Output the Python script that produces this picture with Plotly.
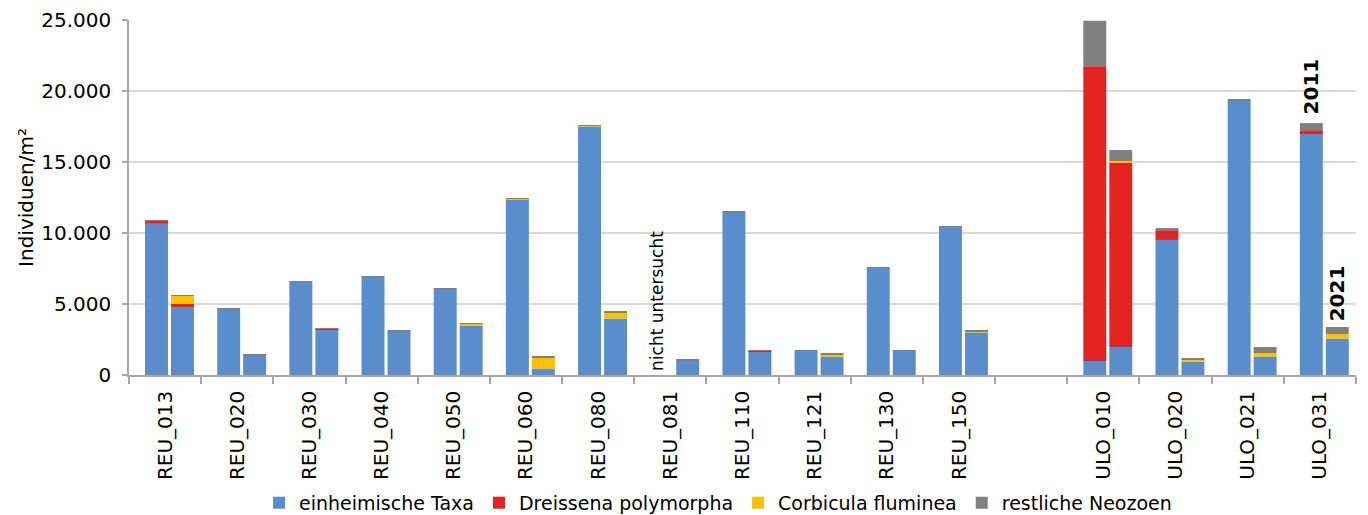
import numpy as np
import plotly.graph_objects as go

# ---------------- data ----------------
categories = ["REU_013", "REU_020", "REU_030", "REU_040", "REU_050", "REU_060",
              "REU_080", "REU_081", "REU_110", "REU_121", "REU_130", "REU_150",
              " ", "ULO_010", "ULO_020", "ULO_021", "ULO_031"]

series_names = ["einheimische Taxa", "Dreissena polymorpha", "Corbicula fluminea", "restliche Neozoen"]

# 2011 (left bar of each pair); None = nicht untersucht / no bar
taxa_2011 = [10650, 4620, 6570, 6920, 6010, 12380, 17500, None, 11430, 1720, 7560, 10450, None, 990, 9510, 19300, 17040]
dreis_2011 = [200, 0, 0, 0, 0, 0, 0, None, 0, 0, 0, 0, None, 20700, 630, 0, 140]
corb_2011 = [0, 0, 0, 0, 0, 50, 60, None, 0, 0, 0, 0, None, 0, 0, 0, 0]
neo_2011 = [50, 30, 50, 50, 50, 30, 40, None, 50, 40, 40, 40, None, 3260, 210, 70, 560]

# 2021 (right bar of each pair)
taxa_2021 = [4750, 1380, 3200, 3060, 3470, 420, 3950, 1020, 1660, 1270, 1720, 2960, None, 1970, 920, 1270, 2540]
dreis_2021 = [250, 0, 60, 0, 0, 0, 0, 0, 50, 0, 0, 0, None, 12960, 0, 0, 0]
corb_2021 = [580, 0, 0, 0, 140, 780, 420, 0, 0, 160, 0, 80, None, 140, 140, 280, 350]
neo_2021 = [50, 30, 50, 40, 50, 70, 120, 40, 50, 50, 40, 130, None, 775, 70, 420, 490]

y_ticks = [0, 5000, 10000, 15000, 20000, 25000]
year_labels = ["2011", "2021"]
note_text = "nicht untersucht"
note_category = "REU_081"
y_title = "Individuen/m²"

# ---------------- styling ----------------
colors = ["#5A8DCC", "#E42320", "#FFC000", "#808080"]
FONT = "DejaVu Sans"
BAR_W = 0.318
OFFSETS = {"2011": -0.278, "2021": 0.082}


def arr(v):
    return np.array([np.nan if x is None else x for x in v], dtype=float)


years = {
    "2011": [arr(taxa_2011), arr(dreis_2011), arr(corb_2011), arr(neo_2011)],
    "2021": [arr(taxa_2021), arr(dreis_2021), arr(corb_2021), arr(neo_2021)],
}

fig = go.Figure()
for yi, (year, comps) in enumerate(years.items()):
    base = np.zeros(len(categories))
    for si, vals in enumerate(comps):
        b = np.where(np.isnan(vals), np.nan, base)
        fig.add_trace(go.Bar(
            x=categories, y=vals, base=b,
            offset=OFFSETS[year], width=BAR_W,
            marker=dict(color=colors[si], line=dict(width=0)),
            name=series_names[si], legendgroup=series_names[si],
            showlegend=(yi == 0),
            hovertemplate=f"{year} %{{x}}<br>{series_names[si]}: %{{y}}<extra></extra>",
        ))
        base = base + np.nan_to_num(vals)

totals = {y: np.nansum(np.vstack(c), axis=0) for y, c in years.items()}

# year labels above ULO_031 bars
idx = categories.index("ULO_031")
annos = []
for year, shift in zip(year_labels, [37, 34]):
    annos.append(dict(
        x=idx + OFFSETS[year] + BAR_W / 2, xref="x",
        y=totals[year][idx], yref="y", yshift=shift,
        text=f"<b>{year}</b>", textangle=-90, showarrow=False,
        xanchor="center", yanchor="middle",
        font=dict(family=FONT, size=20, color="#000000"),
    ))
ni = categories.index(note_category)
annos.append(dict(
    x=ni + OFFSETS["2011"] + BAR_W / 2, xref="x", xshift=-5,
    y=5200, yref="y",
    text=note_text, textangle=-90, showarrow=False,
    xanchor="center", yanchor="middle",
    font=dict(family=FONT, size=17, color="#000000"),
))

# page has an 8px body margin, so the figure is 8px smaller than the window
fig.update_layout(
    width=1360, height=507,
    margin=dict(l=121, r=12, t=12, b=140, autoexpand=False),
    paper_bgcolor="white", plot_bgcolor="white",
    barmode="overlay",
    separators=",.",
    font=dict(family=FONT, size=19, color="#000000"),
    showlegend=True,
    legend=dict(orientation="h", x=0.1846, xanchor="left", xref="container",
                y=0.024, yanchor="middle", yref="container",
                font=dict(family=FONT, size=19, color="#000000"),
                itemwidth=30, tracegroupgap=0, traceorder="normal"),
    annotations=annos,
)

fig.update_xaxes(
    type="category", categoryorder="array", categoryarray=categories,
    range=[-0.5, len(categories) - 0.5], automargin=False,
    tickson="boundaries", ticks="outside", ticklen=7, tickcolor="#a6a6a6", tickwidth=1.5,
    tickangle=-90, tickfont=dict(family=FONT, size=20, color="#000000"),
    ticklabelstandoff=6,
    showline=True, linecolor="#a6a6a6", linewidth=1.5,
    showgrid=False, zeroline=False,
)
fig.update_yaxes(
    range=[0, 25000], tickvals=y_ticks, tickformat=",.0f", automargin=False,
    ticks="outside", ticklen=5, tickcolor="#a6a6a6", tickwidth=1.5,
    ticklabelstandoff=7,
    tickfont=dict(family=FONT, size=20, color="#000000"),
    showline=True, linecolor="#a6a6a6", linewidth=1.5,
    showgrid=True, gridcolor="#d9d9d9", gridwidth=1.5, zeroline=False,
    title=dict(text=y_title, font=dict(family=FONT, size=20, color="#000000"), standoff=2),
)

fig.write_html("out.html")
